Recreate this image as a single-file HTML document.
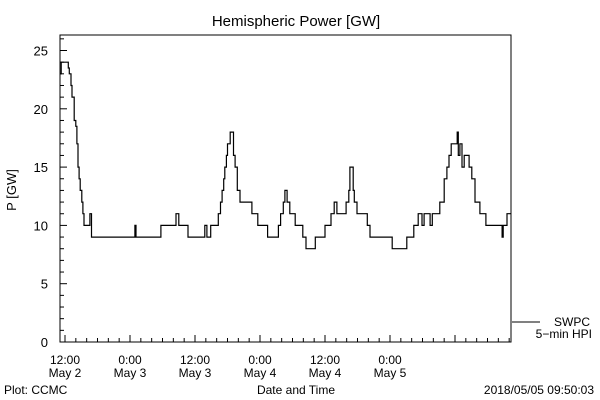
<!DOCTYPE html>
<html><head><meta charset="utf-8"><style>
body{margin:0;background:#fff}
svg{display:block;font-family:"Liberation Sans","DejaVu Sans",sans-serif}
</style></head><body>
<svg id="c" width="600" height="400" viewBox="0 0 600 400">
<rect width="600" height="400" fill="#fff"/>
<text x="296" y="26" font-size="15" text-anchor="middle">Hemispheric Power [GW]</text>
<rect x="60" y="35" width="451" height="307" fill="none" stroke="#000" stroke-width="1"/>
<g id="yax"></g>
<g id="xax"></g>
<text transform="translate(16,190) rotate(-90)" font-size="13" text-anchor="middle">P [GW]</text>
<text x="296" y="394" font-size="12" text-anchor="middle">Date and Time</text>
<text x="4" y="394" font-size="12">Plot: CCMC</text>
<text x="594" y="394" font-size="12" text-anchor="end">2018/05/05 09:50:03</text>
<line x1="512" y1="322" x2="540" y2="322" stroke="#000"/>
<text x="590" y="326" font-size="12" text-anchor="end">SWPC</text>
<text x="592" y="338" font-size="12" text-anchor="end">5−min HPI</text>
<path id="series" fill="none" stroke="#000" stroke-width="1.2"/>
</svg>
<script>
const hours=[11.1,11.3,12.6,12.8,13.1,13.3,13.7,14.0,14.2,14.4,14.6,14.8,15.1,15.3,15.5,16.6,16.9,24.9,25.1,29.7,32.5,33.0,34.7,37.8,38.2,38.9,40.3,40.7,41.0,41.3,41.5,41.8,42.0,42.5,43.1,43.4,43.8,44.3,46.5,47.6,49.4,51.4,51.8,52.3,52.6,53.0,53.5,54.5,55.9,56.5,58.2,60.0,61.1,61.7,62.2,63.9,64.4,64.6,65.2,65.4,65.9,67.8,68.3,72.4,75.1,76.4,77.2,77.9,78.3,79.4,79.8,81.2,82.0,82.5,82.9,83.3,84.4,84.6,84.9,85.3,85.7,86.6,87.1,87.7,88.6,89.7,92.7,92.9,93.6,94.3];
const values=[23,24,23.5,23,22,21,19,18.5,17,15,14,13,12,11,10,11,9,10,9,10,11,10,9,10,9,10,11,12,13,14,15,16,17,18,16,15,13,12,11,10,9,10,11,12,13,12,11,10,9,8,9,10,11,12,11,12,13,15,13,12,11,10,9,8,9,10,11,10,11,10,11,12,14,15,16,17,18,16,17,15,16,15,14,12,11,10,9,10,11,11];
const yTicks=[0,5,10,15,20,25];
const xTickHours=[12,24,36,48,60,72];
const xTickLabels=[["12:00","May 2"],["0:00","May 3"],["12:00","May 3"],["0:00","May 4"],["12:00","May 4"],["0:00","May 5"]];
const X0=60,X1=511,Y0=342,Y1=35;
const xs=h=>h*5.4167, ys=v=>Y0-v*11.66;
const NS="http://www.w3.org/2000/svg";
function mk(tag,attrs,parent,txt){const e=document.createElementNS(NS,tag);for(const k in attrs)e.setAttribute(k,attrs[k]);if(txt!==undefined)e.textContent=txt;parent.appendChild(e);return e;}
const yax=document.getElementById('yax'), xax=document.getElementById('xax');
for(let v=0;v<=26;v++){const y=ys(v);const maj=v%5===0;
 const t=mk('line',{x1:X0,x2:X0+(maj?7:4),y1:y,y2:y,stroke:'#000'},yax);
 
 }
yTicks.forEach(v=>{const t=mk('text',{x:X0-12,y:ys(v)+5,'font-size':13,'text-anchor':'end'},yax,String(v));
 
 });
for(let h=12;h<=94;h+=2){const x=xs(h);if(x<X0||x>X1)continue;const maj=h%12===0;
 const t=mk('line',{x1:x,x2:x,y1:Y0,y2:Y0-(maj?7:4),stroke:'#000'},xax);
 
 }
xTickHours.forEach((h,i)=>{const x=xs(h);
 const a=mk('text',{x:x,y:364,'font-size':12,'text-anchor':'middle'},xax,xTickLabels[i][0]);
 
 
 const b=mk('text',{x:x,y:377,'font-size':12,'text-anchor':'middle'},xax,xTickLabels[i][1]);
 
 });
let d='';
for(let i=0;i<hours.length;i++){const x=xs(hours[i]).toFixed(1),y=ys(values[i]).toFixed(1);
 if(i===0)d+='M'+x+' '+y;else d+=' H'+x+' V'+y;}
document.getElementById('series').setAttribute('d',d);
</script>
</body></html>
